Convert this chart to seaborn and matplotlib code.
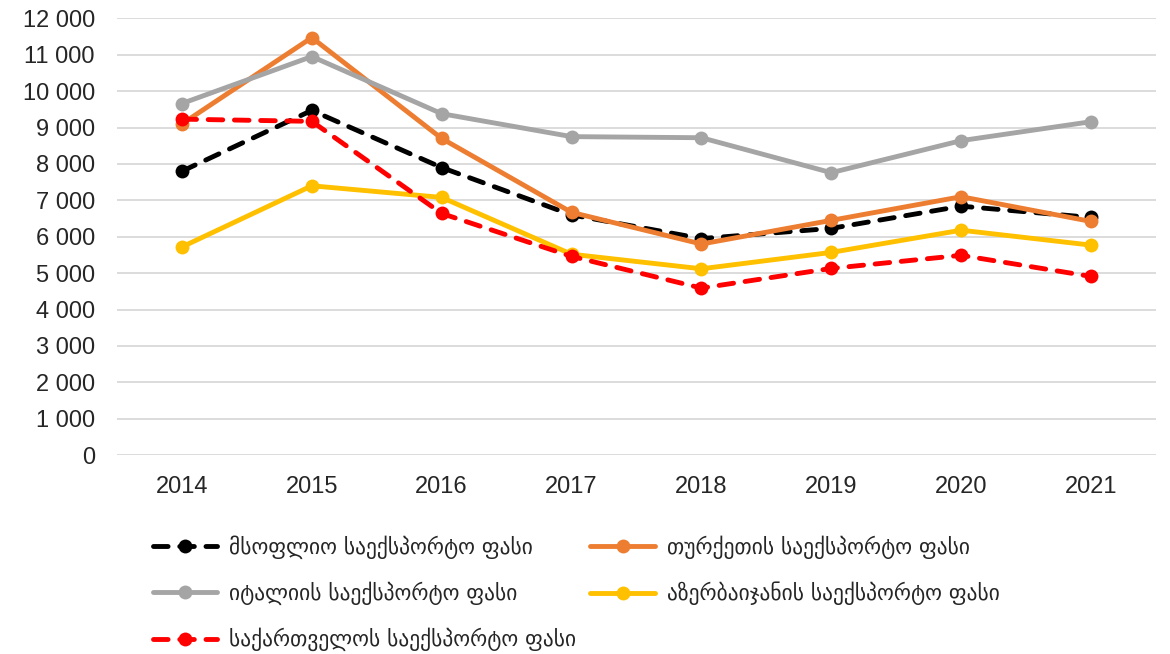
import pandas as pd
import seaborn as sns
import matplotlib.pyplot as plt
from matplotlib.ticker import FuncFormatter

# მონაცემები (წაკითხული სურათიდან)
years = [2014, 2015, 2016, 2017, 2018, 2019, 2020, 2021]
world = [7800, 9470, 7900, 6600, 5950, 6230, 6840, 6530]
turkey = [9100, 11470, 8700, 6670, 5800, 6450, 7100, 6420]
italy = [9660, 10950, 9380, 8750, 8720, 7760, 8640, 9160]
azerbaijan = [5720, 7400, 7080, 5520, 5120, 5570, 6180, 5770]
georgia = [9230, 9170, 6640, 5460, 4590, 5130, 5490, 4910]

labels = [
    "მსოფლიო საექსპორტო ფასი",
    "თურქეთის საექსპორტო ფასი",
    "იტალიის საექსპორტო ფასი",
    "აზერბაიჯანის საექსპორტო ფასი",
    "საქართველოს საექსპორტო ფასი",
]
colors = ["#000000", "#ED7D31", "#A5A5A5", "#FFC000", "#FF0000"]
dashed = [True, False, False, False, True]

sns.set_style("white")
plt.rcParams['font.family'] = ['Liberation Sans', 'DejaVu Sans']

fig = plt.figure(figsize=(11.7, 6.54), dpi=100)
ax = fig.add_axes([0.1, 0.304, 0.888, 0.668])

handles = []
for vals, lab, col, dsh in zip([world, turkey, italy, azerbaijan, georgia], labels, colors, dashed):
    df = pd.DataFrame({"year": years, "value": vals})
    sns.lineplot(data=df, x="year", y="value", ax=ax, color=col, linewidth=3.5,
                 marker="o", markersize=10, markeredgewidth=0, label=lab)
    line = ax.lines[-1]
    if dsh:
        line.set_dashes((3.0, 2.4))
        line.set_dash_capstyle("round")
    line.set_solid_capstyle("round")
    handles.append(line)

ax.set_xlim(2013.5, 2021.5)
ax.set_ylim(0, 12000)
ax.set_yticks(range(0, 12001, 1000))
ax.yaxis.set_major_formatter(FuncFormatter(lambda v, p: f"{int(v):,}".replace(",", " ")))
ax.set_xticks(years)
ax.tick_params(axis="both", labelsize=17, length=0)
ax.tick_params(axis="x", pad=15)
ax.tick_params(axis="y", pad=16)
ax.set_xlabel("")
ax.set_ylabel("")
ax.grid(axis="y", color="#D9D9D9", linewidth=1.3)
ax.grid(axis="x", visible=False)
for s in ax.spines.values():
    s.set_visible(False)
ax.get_legend().remove()

# ლეგენდა: რიგებად, როგორც ორიგინალში
order = [0, 2, 4, 1, 3]
fig.legend([handles[i] for i in order], [labels[i] for i in order],
           loc="upper left", bbox_to_anchor=(0.114, 0.211), ncol=2, frameon=False,
           prop={"family": "DejaVu Sans", "size": 15.5}, handlelength=3.0,
           handletextpad=0.55, columnspacing=0.65, labelspacing=1.05)

plt.savefig("out.png", dpi=100)
